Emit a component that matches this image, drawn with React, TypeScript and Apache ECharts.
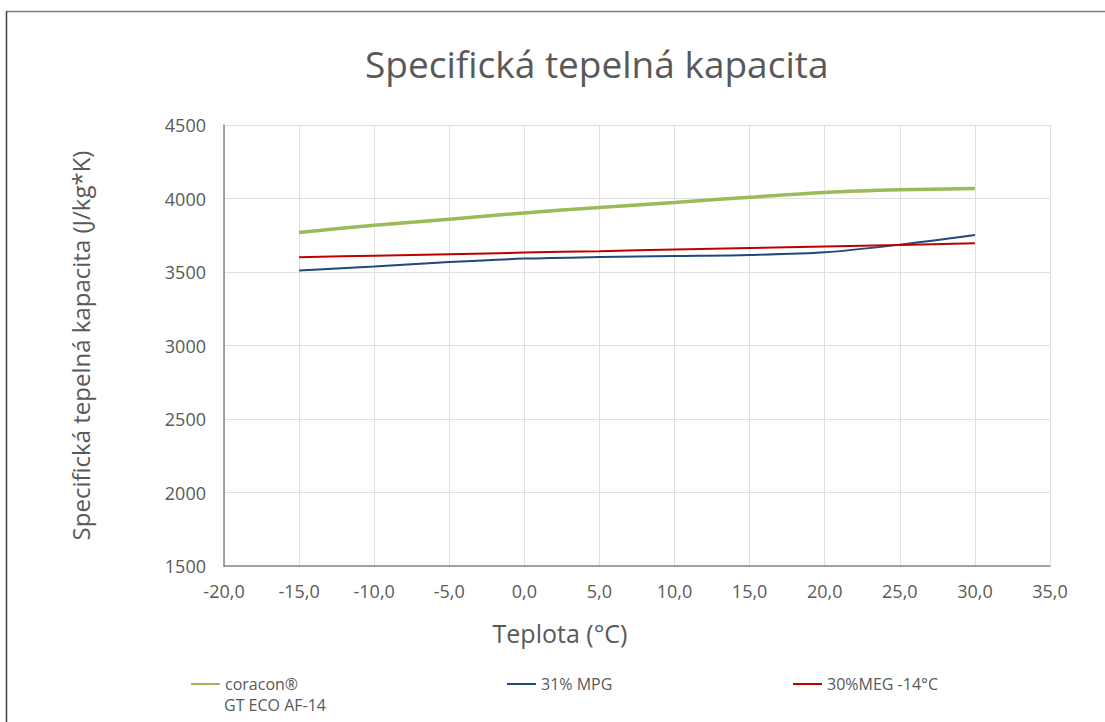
import React, { useEffect, useRef } from "react";
import * as echarts from "echarts";

const temps = [-15, -10, -5, 0, 5, 10, 15, 20, 25, 30];
const coracon = [3768, 3818, 3859, 3902, 3939, 3973, 4009, 4041, 4059, 4068];
const mpg = [3511, 3538, 3568, 3591, 3602, 3609, 3616, 3634, 3686, 3752];
const meg = [3600, 3611, 3621, 3632, 3642, 3653, 3663, 3674, 3684, 3695];

const seriesNames = ["coracon®\nGT ECO AF-14", "31% MPG", "30%MEG -14°C"];
const seriesColors = ["#9bbb59", "#1f497d", "#c00000"];
const title = "Specifická tepelná kapacita";
const yName = "Specifická tepelná kapacita (J/kg*K)";
const xName = "Teplota (°C)";

const FONT = "Open Sans";
const GRAY = "#595959";

export default function App() {
  const ref = useRef<HTMLDivElement>(null);
  useEffect(() => {
    const chart = echarts.init(ref.current!, null, { renderer: "svg" });
    const pair = (arr: number[]) => temps.map((t, i) => [t, arr[i]]);
    const legendBase = {
      top: 676,
      padding: 0,
      icon: "rect",
      itemWidth: 29,
      itemHeight: 2,
      itemGap: 2,
      textStyle: { color: GRAY, fontSize: 16, fontFamily: FONT },
      formatter: (name: string) => name.split("\n")[0],
    };
    chart.setOption({
      animation: false,
      backgroundColor: "#ffffff",
      title: {
        text: title,
        left: 360,
        top: 40,
        textStyle: { color: GRAY, fontSize: 37, fontWeight: "normal", fontFamily: FONT },
      },
      graphic: [
        { type: "line", shape: { x1: 6, y1: 11.5, x2: 1105, y2: 11.5 }, style: { stroke: "#7f7f7f", lineWidth: 1.5 } },
        { type: "line", shape: { x1: 6.5, y1: 11, x2: 6.5, y2: 722 }, style: { stroke: "#404040", lineWidth: 1.5 } },
        {
          type: "text",
          left: 224,
          top: 697,
          style: { text: seriesNames[0].split("\n")[1], fill: GRAY, fontSize: 16, fontFamily: FONT },
        },
      ],
      legend: [
        { ...legendBase, left: 191, data: [seriesNames[0]] },
        { ...legendBase, left: 507, data: [seriesNames[1]] },
        { ...legendBase, left: 793, data: [seriesNames[2]] },
      ],
      grid: { left: 224, right: 55, top: 125, bottom: 156, containLabel: false },
      xAxis: {
        type: "value",
        min: -20,
        max: 35,
        interval: 5,
        name: xName,
        nameLocation: "middle",
        nameGap: 54,
        nameTextStyle: { color: GRAY, fontSize: 25, fontFamily: FONT, padding: [0, 154, 0, 0] },
        axisLine: { show: true, onZero: false, lineStyle: { color: "#868686", width: 1.5 } },
        axisTick: { show: false },
        axisLabel: {
          color: GRAY,
          fontSize: 18,
          fontFamily: FONT,
          margin: 16,
          formatter: (v: number) => v.toFixed(1).replace(".", ","),
        },
        splitLine: { show: true, lineStyle: { color: "#e0e0e0" } },
      },
      yAxis: {
        type: "value",
        min: 1500,
        max: 4500,
        interval: 500,
        name: yName,
        nameLocation: "middle",
        nameGap: 132,
        nameTextStyle: { color: GRAY, fontSize: 24, fontFamily: FONT },
        axisLine: { show: true, onZero: false, lineStyle: { color: "#868686", width: 1.5 } },
        axisTick: { show: false },
        axisLabel: { color: GRAY, fontSize: 18, fontFamily: FONT, margin: 18, formatter: (v: number) => String(v) },
        splitLine: { show: true, lineStyle: { color: "#e0e0e0" } },
      },
      series: [
        { name: seriesNames[0], type: "line", data: pair(coracon), smooth: 0.3, showSymbol: false, symbol: "none", lineStyle: { color: seriesColors[0], width: 3.5 }, itemStyle: { color: seriesColors[0] }, z: 3 },
        { name: seriesNames[1], type: "line", data: pair(mpg), smooth: 0.3, showSymbol: false, symbol: "none", lineStyle: { color: seriesColors[1], width: 2 }, itemStyle: { color: seriesColors[1] }, z: 4 },
        { name: seriesNames[2], type: "line", data: pair(meg), smooth: 0.3, showSymbol: false, symbol: "none", lineStyle: { color: seriesColors[2], width: 2 }, itemStyle: { color: seriesColors[2] }, z: 5 },
      ],
    });
    return () => chart.dispose();
  }, []);
  return <div ref={ref} style={{ position: "absolute", left: 0, top: 0, width: 1105, height: 722 }} />;
}
